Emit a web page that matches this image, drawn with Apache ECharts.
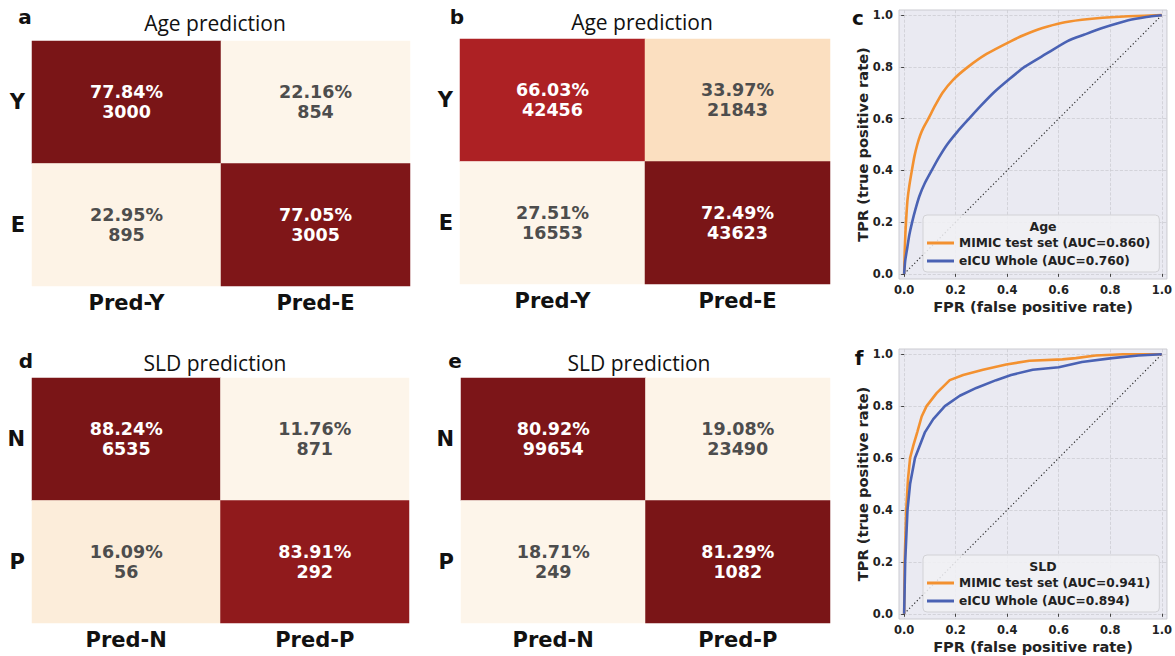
<!DOCTYPE html>
<html><head><meta charset="utf-8">
<script src="https://cdn.jsdelivr.net/npm/echarts@6/dist/echarts.min.js"></script>
<style>html,body{margin:0;padding:0;background:#fff}#c{width:1175px;height:656px}</style>
</head><body><div id="c"></div>
<script>
// ---------- data ----------
const ageRows = ['Y', 'E'];
const ageCols = ['Pred-Y', 'Pred-E'];
const sldRows = ['N', 'P'];
const sldCols = ['Pred-N', 'Pred-P'];

// confusion matrices, row-major: [r0c0, r0c1, r1c0, r1c1]
const pctA = [77.84, 22.16, 22.95, 77.05];
const cntA = [3000, 854, 895, 3005];
const pctB = [66.03, 33.97, 27.51, 72.49];
const cntB = [42456, 21843, 16553, 43623];
const pctD = [88.24, 11.76, 16.09, 83.91];
const cntD = [6535, 871, 56, 292];
const pctE = [80.92, 19.08, 18.71, 81.29];
const cntE = [99654, 23490, 249, 1082];

const heatTitles = ['Age prediction', 'Age prediction', 'SLD prediction', 'SLD prediction'];
const panelLetters = ['a', 'b', 'c', 'd', 'e', 'f'];

// ROC curves: [FPR, TPR]
const ageMimic = [[0,0],[0.002,0.08],[0.005,0.16],[0.009,0.23],[0.013,0.286],[0.02,0.34],[0.03,0.4],[0.04,0.455],[0.051,0.5],[0.062,0.535],[0.075,0.565],[0.094,0.6],[0.12,0.65],[0.149,0.7],[0.19,0.75],[0.248,0.8],[0.32,0.85],[0.415,0.9],[0.47,0.925],[0.537,0.95],[0.61,0.97],[0.69,0.982],[0.77,0.99],[0.87,0.996],[1,1]];
const ageEicu = [[0,0],[0.004,0.05],[0.012,0.1],[0.02,0.15],[0.031,0.2],[0.044,0.25],[0.059,0.3],[0.08,0.35],[0.107,0.4],[0.135,0.45],[0.167,0.5],[0.207,0.55],[0.252,0.6],[0.298,0.65],[0.347,0.7],[0.405,0.75],[0.467,0.8],[0.55,0.85],[0.634,0.9],[0.7,0.925],[0.769,0.95],[0.87,0.98],[0.94,0.993],[1,1]];
const sldMimic = [[0,0],[0.002,0.2],[0.008,0.4],[0.015,0.52],[0.023,0.6],[0.036,0.65],[0.051,0.7],[0.068,0.76],[0.087,0.8],[0.126,0.85],[0.177,0.9],[0.229,0.92],[0.306,0.94],[0.396,0.96],[0.486,0.975],[0.614,0.98],[0.666,0.985],[0.743,0.995],[0.85,1],[1,1]];
const sldEicu = [[0,0],[0.004,0.2],[0.013,0.4],[0.023,0.5],[0.042,0.6],[0.081,0.7],[0.113,0.75],[0.158,0.8],[0.216,0.84],[0.28,0.87],[0.357,0.9],[0.415,0.92],[0.499,0.94],[0.6,0.95],[0.69,0.97],[0.807,0.985],[0.91,0.995],[1,1]];
const diagonal = [[0,0],[1,1]];

const rocTicks = [0, 0.2, 0.4, 0.6, 0.8, 1.0];
const legendAge = ['MIMIC test set (AUC=0.860)', 'eICU Whole (AUC=0.760)'];
const legendSld = ['MIMIC test set (AUC=0.941)', 'eICU Whole (AUC=0.894)'];
const legendTitles = ['Age', 'SLD'];
const xName = 'FPR (false positive rate)';
const yName = 'TPR (true positive rate)';

// ---------- styling ----------
const ramp = ['#FDF5EA','#FBE3C6','#F8CB9C','#F3A574','#E4744F','#D04A3A','#BE2E2C','#AA1F23','#7A1517'];
const BOLD = '"DejaVu Sans", sans-serif';
const ORANGE = '#F39130', BLUE = '#4A62B4';

const heatGrids = [
  {left: 32, top: 41, width: 378, height: 245},
  {left: 460, top: 39, width: 370, height: 245},
  {left: 32, top: 378, width: 377, height: 245},
  {left: 461, top: 378, width: 369, height: 245}
];
const rocGrids = [
  {left: 899, top: 10, width: 269, height: 269},
  {left: 899, top: 349, width: 269, height: 270}
];
const heatSets = [
  {pct: pctA, cnt: cntA, rows: ageRows, cols: ageCols},
  {pct: pctB, cnt: cntB, rows: ageRows, cols: ageCols},
  {pct: pctD, cnt: cntD, rows: sldRows, cols: sldCols},
  {pct: pctE, cnt: cntE, rows: sldRows, cols: sldCols}
];

const grid = [], xAxis = [], yAxis = [], series = [], visualMap = [], legend = [], graphic = [];

heatSets.forEach((s, i) => {
  grid.push(heatGrids[i]);
  const lo = Math.min(...s.pct), hi = Math.max(...s.pct);
  xAxis.push({type: 'category', gridIndex: i, data: s.cols, axisLine: {show: false}, axisTick: {show: false},
    splitLine: {show: false}, axisLabel: {fontFamily: BOLD, fontWeight: 'bold', fontSize: 21, color: '#111', margin: 6}});
  yAxis.push({type: 'category', gridIndex: i, data: s.rows, inverse: true, axisLine: {show: false}, axisTick: {show: false},
    splitLine: {show: false}, axisLabel: {fontFamily: BOLD, fontWeight: 'bold', fontSize: 21, color: '#111', margin: 7}});
  const data = s.pct.map((p, k) => ({
    value: [k % 2, Math.floor(k / 2), p],
    count: s.cnt[k],
    label: {color: (p - lo) / (hi - lo) > 0.5 ? '#ffffff' : '#4d4d4d'}
  }));
  series.push({type: 'heatmap', xAxisIndex: i, yAxisIndex: i, data,
    label: {show: true, fontFamily: BOLD, fontWeight: 'bold', fontSize: 17.5, lineHeight: 20,
      formatter: p => p.value[2].toFixed(2) + '%\n' + p.data.count},
    emphasis: {disabled: true}});
  visualMap.push({type: 'continuous', show: false, seriesIndex: i, dimension: 2, min: lo, max: hi, inRange: {color: ramp}});
});

rocGrids.forEach((g, j) => {
  const gi = 4 + j;
  grid.push(Object.assign({show: true, backgroundColor: '#EAEAF2', borderColor: '#cacad0', borderWidth: 1}, g));
  const mk = (isX) => ({
    type: 'value', gridIndex: gi, min: -0.02, max: 1.02,
    axisLine: {show: false},
    axisTick: {show: true, customValues: rocTicks, length: 3, lineStyle: {color: '#444', width: 1}},
    axisLabel: {customValues: rocTicks, formatter: v => v.toFixed(1), fontFamily: BOLD, fontWeight: 'bold',
      fontSize: 11.5, color: '#222', margin: isX ? 5 : 6},
    splitLine: {show: true, lineStyle: {type: 'dashed', color: '#cdcdd3', width: 0.8}}
  });
  xAxis.push(mk(true));
  yAxis.push(mk(false));
  const curves = j === 0 ? [ageMimic, ageEicu] : [sldMimic, sldEicu];
  const names = j === 0 ? legendAge : legendSld;
  series.push({type: 'line', name: 'diag' + j, xAxisIndex: gi, yAxisIndex: gi, data: diagonal, showSymbol: false,
    lineStyle: {type: [1.2, 2.4], color: '#222', width: 1.1}, silent: true, z: 1});
  series.push({type: 'line', name: names[0], xAxisIndex: gi, yAxisIndex: gi, data: curves[0], showSymbol: false,
    smooth: j === 0 ? 0.2 : false, lineStyle: {color: ORANGE, width: 2.6}, itemStyle: {color: ORANGE}, z: 3});
  series.push({type: 'line', name: names[1], xAxisIndex: gi, yAxisIndex: gi, data: curves[1], showSymbol: false,
    smooth: j === 0 ? 0.2 : false, lineStyle: {color: BLUE, width: 2.6}, itemStyle: {color: BLUE}, z: 3});
  const top = j === 0 ? 215 : 555;
  legend.push({data: names, orient: 'vertical', left: 923, top: top, padding: [22, 9, 5, 4], itemGap: 6,
    icon: 'rect', itemWidth: 27, itemHeight: 3, selectedMode: false,
    backgroundColor: 'rgba(241,241,245,0.85)', borderColor: '#d2d2d6', borderWidth: 1, borderRadius: 4,
    textStyle: {fontFamily: BOLD, fontWeight: 'bold', fontSize: 12.2, color: '#222'}});
  graphic.push({type: 'text', x: 1043, y: top + 11, z: 100, style: {text: legendTitles[j], align: 'center', verticalAlign: 'middle',
    fontFamily: BOLD, fontWeight: 'bold', fontSize: 12.5, fill: '#222'}});
  // axis titles
  const zeroY = g.top + g.height * (1.02 / 1.04);
  graphic.push({type: 'text', x: 1033, y: zeroY + 33, style: {text: xName, align: 'center', verticalAlign: 'middle',
    fontFamily: BOLD, fontWeight: 'bold', fontSize: 14.6, fill: '#222'}});
  graphic.push({type: 'text', x: 862, y: g.top + g.height / 2, rotation: Math.PI / 2, style: {text: yName, align: 'center', verticalAlign: 'middle',
    fontFamily: BOLD, fontWeight: 'bold', fontSize: 14.6, fill: '#222'}});
});

// titles
const titlePos = [[215, 23], [642, 22], [215, 363], [639, 363]];
heatTitles.forEach((t, i) => graphic.push({type: 'text', x: titlePos[i][0], y: titlePos[i][1],
  style: {text: t, align: 'center', verticalAlign: 'middle', fontFamily: '"Open Sans", sans-serif', fontSize: 21, fill: '#111'}}));
const letterPos = [[25, 17], [457, 17], [858, 18], [26, 361], [455, 361], [859, 358]];
panelLetters.forEach((l, i) => graphic.push({type: 'text', x: letterPos[i][0], y: letterPos[i][1],
  style: {text: l, align: 'center', verticalAlign: 'middle', fontFamily: BOLD, fontWeight: 'bold', fontSize: 20, fill: '#111'}}));

const chart = echarts.init(document.getElementById('c'), null, {renderer: 'svg'});
chart.setOption({animation: false, backgroundColor: '#ffffff', grid, xAxis, yAxis, series, visualMap, legend, graphic});
</script></body></html>
